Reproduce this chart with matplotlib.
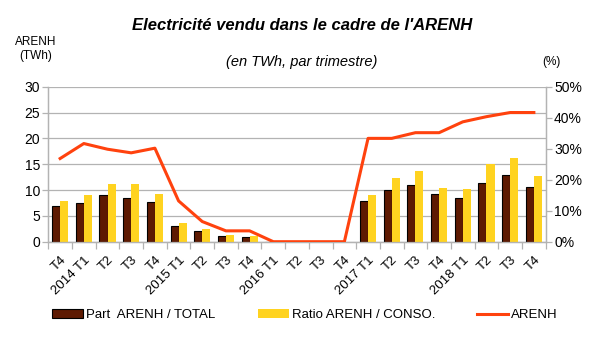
import matplotlib
matplotlib.use("Agg")
import matplotlib.pyplot as plt
from matplotlib.ticker import FuncFormatter

plt.rcParams["font.family"] = ["Liberation Sans", "DejaVu Sans"]

# quarters from 2013 T4 to 2018 T4
quarters = ["T4", "2014 T1", "T2", "T3", "T4", "2015 T1", "T2", "T3", "T4",
            "2016 T1", "T2", "T3", "T4", "2017 T1", "T2", "T3", "T4",
            "2018 T1", "T2", "T3", "T4"]

# ARENH volume sold (TWh per quarter)
arenh_twh = [16.1, 19.0, 17.9, 17.2, 18.1, 7.9, 3.9, 2.1, 2.1,
             0, 0, 0, 0, 20.0, 20.0, 21.1, 21.1, 23.2, 24.2, 25.0, 25.0]

# shares in percent
part_total = [11.5, 12.5, 15.0, 14.1, 12.8, 5.0, 3.4, 1.8, 1.5,
              0, 0, 0, 0, 13.1, 16.7, 18.3, 15.4, 14.1, 18.9, 21.5, 17.6]
ratio_conso = [13.1, 15.0, 18.6, 18.6, 15.4, 6.0, 4.1, 2.3, 1.9,
               0, 0, 0, 0, 15.0, 20.6, 22.9, 17.4, 17.1, 25.0, 27.1, 21.3]

brown = "#5e1a02"
yellow = "#ffd320"
orange = "#ff420e"
grey = "#b3b3b3"

fig = plt.figure(figsize=(6.05, 3.4), dpi=100)
ax = fig.add_axes([48.3 / 605, 1 - 241.7 / 340, (545.7 - 48.3) / 605, 155 / 340])
ax_pct = ax.twinx()
ax_line = ax.twinx()

n = len(quarters)
x = list(range(n))
w = 0.34

ax_pct.bar([i - w / 2 for i in x], part_total, width=w, color=brown,
           edgecolor="black", linewidth=0.8, label="Part  ARENH / TOTAL")
ax_pct.bar([i + w / 2 for i in x], ratio_conso, width=w, color=yellow,
           linewidth=0, label="Ratio ARENH / CONSO.")
ax_line.plot(x, arenh_twh, color=orange, linewidth=2.2, label="ARENH")

ax.set_xlim(-0.5, n - 0.5)
ax.set_ylim(0, 30)
ax.set_yticks(range(0, 31, 5))
ax.grid(axis="y", color=grey, linewidth=0.9)
ax.set_axisbelow(True)

ax_pct.set_ylim(0, 50)
ax_pct.set_yticks(range(0, 51, 10))
ax_pct.yaxis.set_major_formatter(FuncFormatter(lambda v, p: f"{v:.0f}%"))

ax_line.set_ylim(0, 30)
ax_line.axis("off")

# ticks between categories, labels centred under each category
ax.set_xticks([i - 0.5 for i in range(n + 1)], minor=False)
ax.set_xticklabels([])
ax.set_xticks(x, minor=True)
ax.set_xticklabels(quarters, minor=True, rotation=45, ha="right",
                   rotation_mode="anchor", fontsize=9.5)
ax.tick_params(axis="x", which="major", length=5, color=grey, width=0.9)
ax.tick_params(axis="x", which="minor", length=0, pad=9)
ax.tick_params(axis="y", length=4, color=grey, width=0.9, labelsize=10, pad=2)
ax_pct.tick_params(axis="y", length=4, color=grey, width=0.9, labelsize=10, pad=2)

for a in (ax, ax_pct):
    a.spines["top"].set_visible(False)
    for side in ("left", "right", "bottom"):
        a.spines[side].set_color(grey)
        a.spines[side].set_linewidth(0.9)

fig.text(302 / 605, 1 - 26 / 340, "Electricité vendu dans le cadre de l'ARENH",
         ha="center", va="center", fontsize=12, fontweight="bold", fontstyle="italic")
fig.text(302 / 605, 1 - 62 / 340, "(en TWh, par trimestre)", ha="center", va="center",
         fontsize=10.5, fontstyle="italic")
fig.text(36 / 605, 1 - 49 / 340, "ARENH\n(TWh)", ha="center", va="center",
         fontsize=8.5, linespacing=1.25)
fig.text(551 / 605, 1 - 62 / 340, "(%)", ha="center", va="center", fontsize=8.5)

h1, l1 = ax_pct.get_legend_handles_labels()
h2, l2 = ax_line.get_legend_handles_labels()
fig.legend(h1 + h2, l1 + l2, loc="center left", bbox_to_anchor=(52 / 605, 1 - 315 / 340),
           ncol=3, frameon=False, fontsize=9.5, handlelength=2.35, handleheight=0.6,
           handletextpad=0.23, columnspacing=3.2, borderaxespad=0, borderpad=0)

fig.savefig("out.png", dpi=100)
